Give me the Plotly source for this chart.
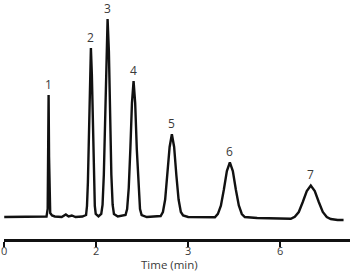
import plotly.graph_objects as go

# Chromatogram trace (time in min, detector signal in arbitrary units)
time_min = [
    0.00, 0.50, 0.85,
    0.92, 0.945, 0.955, 0.965, 0.975, 0.985, 1.00, 1.04, 1.10,
    1.25, 1.34, 1.40, 1.47, 1.55, 1.70,
    1.78, 1.80, 1.82, 1.84, 1.864, 1.885, 1.906, 1.93, 1.95, 1.97, 1.99, 2.05,
    2.11, 2.138, 2.166, 2.193, 2.22, 2.248, 2.276, 2.303, 2.33, 2.358, 2.386, 2.47,
    2.638, 2.673, 2.708, 2.743, 2.778, 2.813, 2.848, 2.883, 2.918, 2.953, 2.988, 3.10,
    3.402, 3.451, 3.50, 3.549, 3.597, 3.646, 3.695, 3.744, 3.792, 3.841, 3.89, 4.00, 4.30,
    4.582, 4.647, 4.712, 4.777, 4.842, 4.907, 4.972, 5.037, 5.102, 5.167, 5.232, 5.50, 6.00,
    6.232, 6.319, 6.406, 6.493, 6.58, 6.667, 6.754, 6.841, 6.928, 7.015, 7.102, 7.25, 7.38,
]
signal = [
    0, 0.3, 0,
    0.5, 8, 60, 122, 60, 10, 4, 1.5, 0.5,
    0, 2.5, 0.5, 1.5, 0, 0.5,
    2, 11, 35, 85, 142, 169, 142, 85, 35, 11, 3, 0.5,
    3, 12, 42, 99, 166, 198, 166, 99, 42, 12, 3, 0.5,
    2, 8, 29, 68, 114, 136, 114, 68, 29, 8, 2, 0,
    1, 5, 17.5, 41.5, 70, 82.7, 70, 41.5, 17.5, 5, 1.5, 0, -0.3,
    -0.2, 3.2, 11.3, 27.5, 46, 54.7, 46, 27.5, 11.5, 3, 0, -1, -1.5,
    -1.8, 0.3, 5, 15, 26, 31.5, 26, 15, 5, 0, -2, -3, -3,
]

# Peak labels
peak_labels = ["1", "2", "3", "4", "5", "6", "7"]
peak_times = [0.965, 1.885, 2.248, 2.813, 3.646, 4.907, 6.667]
peak_heights = [122, 169, 198, 136, 82.7, 54.7, 31.5]

# Axis ticks as printed
tick_values = [0, 2, 4, 6]
tick_labels = ["0", "2", "3", "6"]
x_title = "Time (min)"

FONT = "Open Sans, sans-serif"
TXT = "#3a3a3a"

fig = go.Figure()
fig.add_trace(go.Scatter(
    x=time_min, y=signal, mode="lines",
    line=dict(color="#111111", width=2.4),
    hoverinfo="skip", showlegend=False,
))

for lab, t, h in zip(peak_labels, peak_times, peak_heights):
    fig.add_annotation(
        x=t, y=h + 11, text=lab, showarrow=False,
        xanchor="center", yanchor="middle",
        font=dict(family=FONT, size=12, color=TXT),
    )

# axis title placed as the reference shows it (slightly left of centre)
fig.add_annotation(
    x=0.479, y=-0.108, xref="paper", yref="paper", text=x_title,
    showarrow=False, xanchor="center", yanchor="middle", borderpad=0,
    font=dict(family=FONT, size=11.5, color=TXT),
)

fig.update_layout(
    width=350, height=272,
    margin=dict(l=4, r=0, t=0, b=33),
    paper_bgcolor="white", plot_bgcolor="white",
    showlegend=False,
    xaxis=dict(
        range=[-0.005, 7.52],
        tickmode="array", tickvals=tick_values, ticktext=tick_labels,
        showline=True, linecolor="#111111", linewidth=2.5,
        ticks="outside", ticklen=5, tickwidth=2, tickcolor="#111111",
        showgrid=False, zeroline=False, automargin=False,
        ticklabelstandoff=-5, ticklabeloverflow="allow",
        tickfont=dict(family=FONT, size=11, color=TXT),
    ),
    yaxis=dict(
        range=[-22, 217], visible=False, showgrid=False, zeroline=False,
    ),
)

fig.write_html("out.html")
